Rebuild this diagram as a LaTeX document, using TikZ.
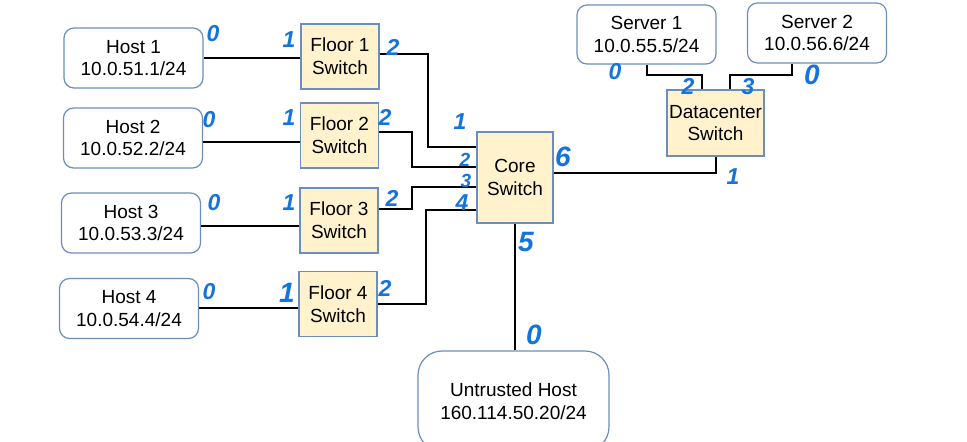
\documentclass[tikz,border=0pt]{standalone}
\usepackage{fontspec}
\setmainfont{Liberation Sans}
\usetikzlibrary{calc}

\definecolor{boxBorder}{HTML}{6C8EBF}
\definecolor{switchFill}{HTML}{FFF2CC}
\definecolor{penBlue}{HTML}{1473DC}

\begin{document}
\begin{tikzpicture}[
        x=0.5pt, y=-0.5pt,
        every node/.style={font=\fontsize{9.5}{11.3}\selectfont, align=center, inner sep=0pt},
        hostBox/.style={draw=boxBorder, fill=white, line width=0.6pt, rounded corners=5pt,
            minimum width=69.5pt, minimum height=30pt},
        switchBox/.style={draw=boxBorder, fill=switchFill, line width=0.6pt,
            minimum width=39pt, minimum height=32.5pt},
        wire/.style={black, line width=1pt},
        portLabel/.style={penBlue, font=\fontsize{11.5}{11.5}\selectfont\bfseries\itshape},
        smallPort/.style={portLabel, font=\fontsize{9.5}{9.5}\selectfont\bfseries\itshape},
        bigPort/.style={portLabel, font=\fontsize{14}{14}\selectfont\bfseries\itshape}
    ]
        \useasboundingbox (0,0) rectangle (967,442);

        % Hosts on the floors
        \node[hostBox] (host1) at (133.5,58) {Host 1\\10.0.51.1/24};
        \node[hostBox] (host2) at (133,138) {Host 2\\10.0.52.2/24};
        \node[hostBox] (host3) at (131,223) {Host 3\\10.0.53.3/24};
        \node[hostBox] (host4) at (129,308.5) {Host 4\\10.0.54.4/24};

        % Floor switches
        \node[switchBox] (floor1) at (340,56.5) {Floor 1\\Switch};
        \node[switchBox] (floor2) at (339.5,135.5) {Floor 2\\Switch};
        \node[switchBox] (floor3) at (339,220.5) {Floor 3\\Switch};
        \node[switchBox] (floor4) at (338,304) {Floor 4\\Switch};

        % Core, datacenter and servers
        \node[switchBox, minimum width=38pt, minimum height=45.5pt] (core) at (515,177.5) {Core\\Switch};
        \node[switchBox, minimum width=48.5pt, minimum height=33pt] (dcSwitch) at (715.5,123) {Datacenter\\Switch};
        \node[hostBox, minimum height=29.5pt] (server1) at (646.5,34.5) {Server 1\\10.0.55.5/24};
        \node[hostBox, minimum height=30pt] (server2) at (817,33) {Server 2\\10.0.56.6/24};
        \node[hostBox, rounded corners=12pt, minimum width=95.5pt, minimum height=50pt] (untrusted) at (513.5,401)
            {Untrusted Host\\160.114.50.20/24};

        % Ports on the left side of the core switch
        \coordinate (cp1) at ($(core.west)+(0,-30)$);
        \coordinate (cp2) at ($(core.west)+(0,-10)$);
        \coordinate (cp3) at ($(core.west)+(0,10)$);
        \coordinate (cp4) at ($(core.west)+(0,33)$);

        % Host to floor links
        \draw[wire] (host1.east) -- (floor1.west |- host1.east);
        \draw[wire] ($(host2.east)+(0,4)$) -- ($(floor2.west |- host2.east)+(0,4)$);
        \draw[wire] ($(host3.east)+(0,3)$) -- ($(floor3.west |- host3.east)+(0,3)$);
        \draw[wire] (host4.east) -- (floor4.west |- host4.east);

        % Floor to core links
        \draw[wire] ($(floor1.east)+(0,-2)$) -| ($(cp1)+(-48,0)$) -- (cp1);
        \draw[wire] ($(floor2.east)+(0,-3)$) -| ($(cp2)+(-64,0)$) -- (cp2);
        \draw[wire] ($(floor3.east)+(0,-11)$) -| ($(cp3)+(-64,0)$) -- (cp3);
        \draw[wire] (floor4.east) -| ($(cp4)+(-50,0)$) -- (cp4);

        % Core uplinks
        \draw[wire] ($(core.east)+(0,-4)$) -| (dcSwitch.south);
        \draw[wire] (core.south) -- (core.south |- untrusted.north);

        % Servers to datacenter switch
        \draw[wire] (server1.south) |- ($(dcSwitch.north)+(-14,-14)$) -- ($(dcSwitch.north)+(-14,0)$);
        \draw[wire] ($(server2.south)+(-25,0)$) |- ($(dcSwitch.north)+(14,-14)$) -- ($(dcSwitch.north)+(14,0)$);

        % Handwritten port numbers
        \node[portLabel] (h1p) at (213,34) {0};
        \node[portLabel] (f1a) at (289,40) {1};
        \node[portLabel] (f1b) at (393,47) {2};
        \node[portLabel] (h2p) at (209,120) {0};
        \node[portLabel] (f2a) at (289,118) {1};
        \node[portLabel] (f2b) at (385,117) {2};
        \node[portLabel] (h3p) at (214,203) {0};
        \node[portLabel] (f3a) at (289,203) {1};
        \node[portLabel] (f3b) at (392,198) {2};
        \node[portLabel] (h4p) at (209,292) {0};
        \node[bigPort] (f4a) at (287,293) {1};
        \node[portLabel] (f4b) at (385,288) {2};
        \node[portLabel] (c1) at (460,122) {1};
        \node[smallPort] (c2) at (465,160) {2};
        \node[smallPort] (c3) at (466,181) {3};
        \node[portLabel] (c4) at (462,203) {4};
        \node[bigPort] (c5) at (526,242) {5};
        \node[bigPort] (c6) at (563,157) {6};
        \node[bigPort] (up) at (534,335) {0};
        \node[portLabel] (d1) at (733,177) {1};
        \node[portLabel] (d2) at (688,86) {2};
        \node[portLabel] (d3) at (748,87) {3};
        \node[portLabel] (s1p) at (615,72) {0};
        \node[bigPort] (s2p) at (812,75) {0};

    \end{tikzpicture}
\end{document}
